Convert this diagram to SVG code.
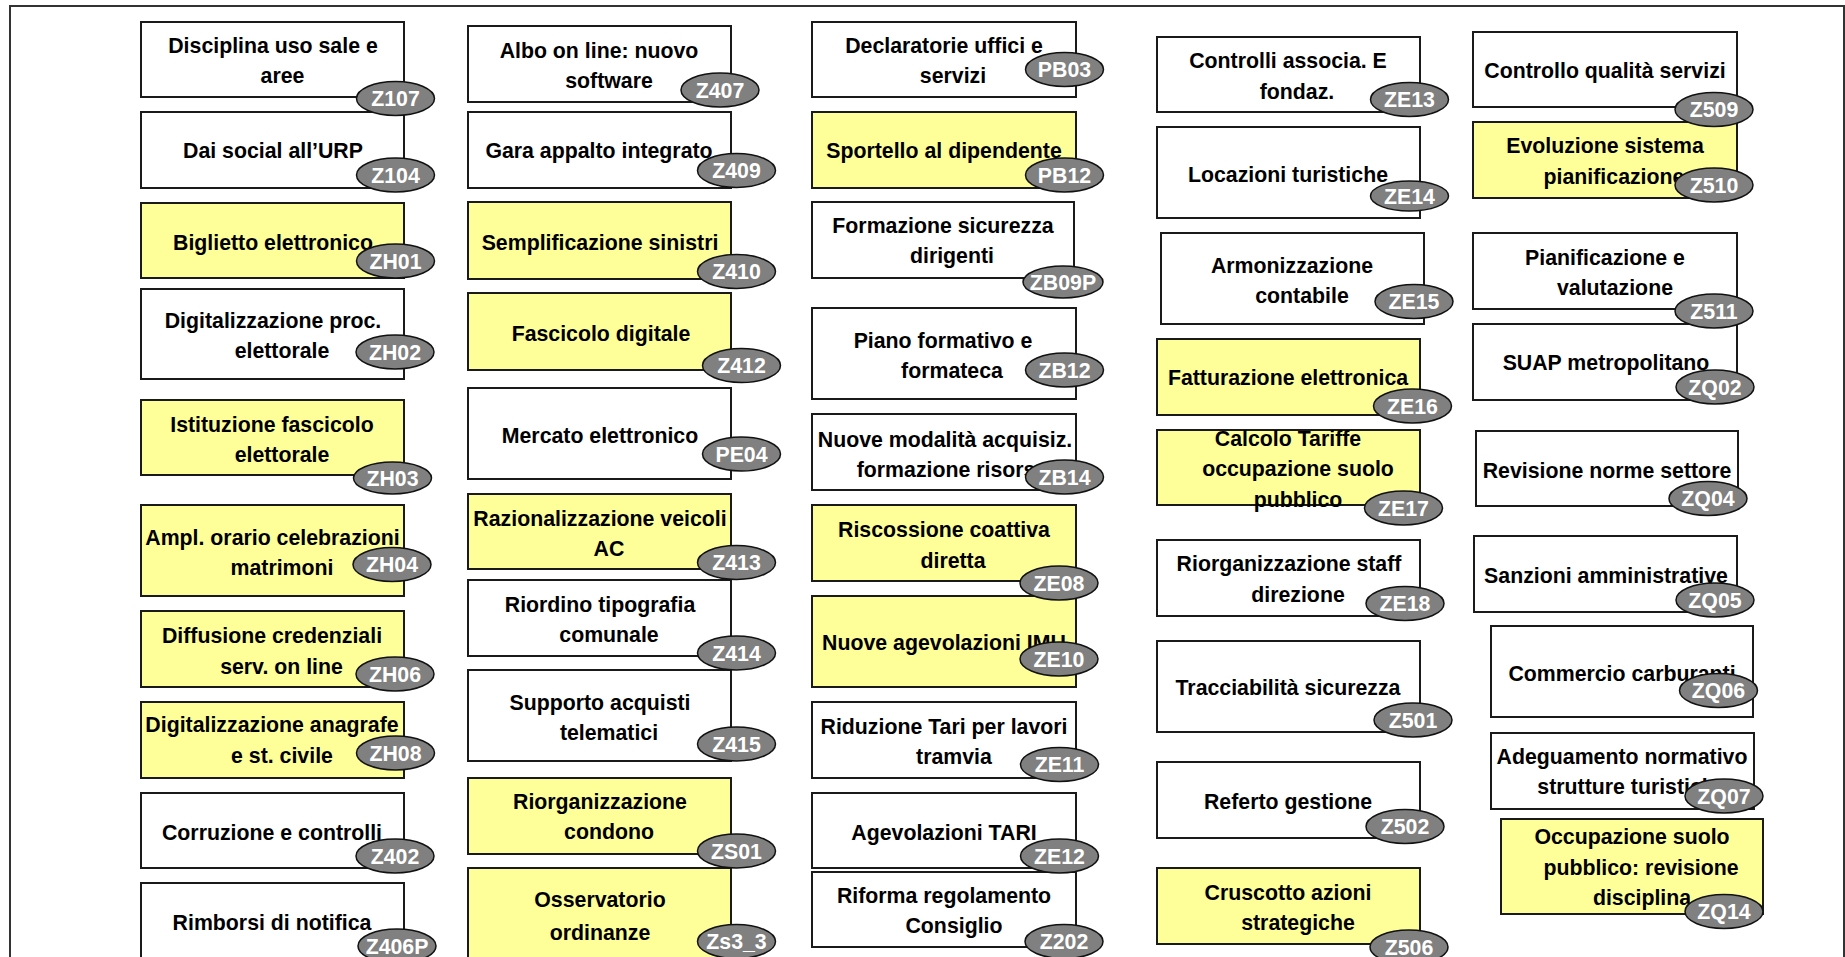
<svg xmlns="http://www.w3.org/2000/svg" width="1845" height="957" viewBox="0 0 1845 957">
<style>
.box{stroke:#1a1a1a;stroke-width:2}
.w{fill:#ffffff}
.y{fill:#ffff99}
.t{font-family:"Liberation Sans",Arial,sans-serif;font-weight:bold;font-size:21.3px;fill:#000;text-anchor:middle}
.tag{fill:#808080;stroke:#111;stroke-width:1.5}
.lb{font-family:"Liberation Sans",Arial,sans-serif;font-weight:bold;font-size:21.3px;fill:#fff;text-anchor:middle}
.frame{fill:none;stroke:#333;stroke-width:2}
</style>
<rect x="0" y="0" width="1845" height="957" fill="#fff"/>
<path class="frame" d="M10 960 V6 H1844 V960"/>

<g id="col1">
<g id="n-Z406P"><rect class="box w" x="141" y="883" width="263" height="100"/><text class="t" x="272" y="930">Rimborsi di notifica</text><ellipse class="tag" cx="397" cy="946" rx="39" ry="17"/><text class="lb" x="397" y="953.5">Z406P</text></g>
<g id="n-Z402"><rect class="box w" x="141" y="793" width="263" height="75"/><text class="t" x="272" y="840">Corruzione e controlli</text><ellipse class="tag" cx="395" cy="856" rx="39" ry="17"/><text class="lb" x="395" y="863.5">Z402</text></g>
<g id="n-ZH08"><rect class="box y" x="141" y="702" width="263" height="76"/><text class="t" x="272" y="732">Digitalizzazione anagrafe</text><text class="t" x="282" y="763">e st. civile</text><ellipse class="tag" cx="395.5" cy="753" rx="39" ry="17"/><text class="lb" x="395.5" y="760.5">ZH08</text></g>
<g id="n-ZH06"><rect class="box y" x="141" y="611" width="263" height="76"/><text class="t" x="272" y="643">Diffusione credenziali</text><text class="t" x="281.5" y="674">serv. on line</text><ellipse class="tag" cx="395" cy="674" rx="39" ry="17"/><text class="lb" x="395" y="681.5">ZH06</text></g>
<g id="n-ZH04"><rect class="box y" x="141" y="505" width="263" height="91"/><text class="t" x="272.5" y="545">Ampl. orario celebrazioni</text><text class="t" x="282" y="575">matrimoni</text><ellipse class="tag" cx="392" cy="564.5" rx="39" ry="17"/><text class="lb" x="392" y="572">ZH04</text></g>
<g id="n-ZH03"><rect class="box y" x="141" y="400" width="263" height="75"/><text class="t" x="272" y="432">Istituzione fascicolo</text><text class="t" x="282" y="462">elettorale</text><ellipse class="tag" cx="392.5" cy="478" rx="39" ry="16"/><text class="lb" x="392.5" y="485.5">ZH03</text></g>
<g id="n-ZH02"><rect class="box w" x="141" y="289" width="263" height="90"/><text class="t" x="273" y="328">Digitalizzazione proc.</text><text class="t" x="282" y="358">elettorale</text><ellipse class="tag" cx="395" cy="352" rx="39" ry="17"/><text class="lb" x="395" y="359.5">ZH02</text></g>
<g id="n-ZH01"><rect class="box y" x="141" y="203" width="263" height="75"/><text class="t" x="273" y="250">Biglietto elettronico</text><ellipse class="tag" cx="395.5" cy="261" rx="39" ry="17"/><text class="lb" x="395.5" y="268.5">ZH01</text></g>
<g id="n-Z104"><rect class="box w" x="141" y="112" width="263" height="76"/><text class="t" x="273" y="158">Dai social all’URP</text><ellipse class="tag" cx="395.5" cy="175" rx="39" ry="17"/><text class="lb" x="395.5" y="182.5">Z104</text></g>
<g id="n-Z107"><rect class="box w" x="141" y="22" width="263" height="75"/><text class="t" x="273" y="53">Disciplina uso sale e</text><text class="t" x="282.5" y="83">aree</text><ellipse class="tag" cx="395.5" cy="98.5" rx="39" ry="17"/><text class="lb" x="395.5" y="106">Z107</text></g>
</g>

<g id="col2">
<g id="n-Zs3_3"><rect class="box y" x="468" y="868" width="263" height="100"/><text class="t" x="600" y="907">Osservatorio</text><text class="t" x="600" y="940">ordinanze</text><ellipse class="tag" cx="736.5" cy="941.5" rx="39" ry="17"/><text class="lb" x="736.5" y="949">Zs3_3</text></g>
<g id="n-ZS01"><rect class="box y" x="468" y="778" width="263" height="76"/><text class="t" x="600" y="809">Riorganizzazione</text><text class="t" x="609" y="839">condono</text><ellipse class="tag" cx="736.5" cy="851" rx="39" ry="17"/><text class="lb" x="736.5" y="858.5">ZS01</text></g>
<g id="n-Z415"><rect class="box w" x="468" y="670" width="263" height="91"/><text class="t" x="600" y="710">Supporto acquisti</text><text class="t" x="609" y="740">telematici</text><ellipse class="tag" cx="736.5" cy="744" rx="39" ry="17"/><text class="lb" x="736.5" y="751.5">Z415</text></g>
<g id="n-Z414"><rect class="box w" x="468" y="580" width="263" height="76"/><text class="t" x="600" y="612">Riordino tipografia</text><text class="t" x="609" y="642">comunale</text><ellipse class="tag" cx="736.5" cy="653" rx="39" ry="17"/><text class="lb" x="736.5" y="660.5">Z414</text></g>
<g id="n-Z413"><rect class="box y" x="468" y="494" width="263" height="75"/><text class="t" x="600" y="526">Razionalizzazione veicoli</text><text class="t" x="609" y="556">AC</text><ellipse class="tag" cx="736.5" cy="562.5" rx="39" ry="17"/><text class="lb" x="736.5" y="570">Z413</text></g>
<g id="n-PE04"><rect class="box w" x="468" y="388" width="263" height="91"/><text class="t" x="600" y="443">Mercato elettronico</text><ellipse class="tag" cx="741.5" cy="454" rx="39" ry="17"/><text class="lb" x="741.5" y="461.5">PE04</text></g>
<g id="n-Z412"><rect class="box y" x="468" y="293" width="263" height="77"/><text class="t" x="601" y="341">Fascicolo digitale</text><ellipse class="tag" cx="741.5" cy="365.5" rx="39" ry="17"/><text class="lb" x="741.5" y="373">Z412</text></g>
<g id="n-Z410"><rect class="box y" x="468" y="202" width="263" height="77"/><text class="t" x="600" y="250">Semplificazione sinistri</text><ellipse class="tag" cx="736.5" cy="271.5" rx="39" ry="17"/><text class="lb" x="736.5" y="279">Z410</text></g>
<g id="n-Z409"><rect class="box w" x="468" y="112" width="263" height="76"/><text class="t" x="599" y="158">Gara appalto integrato</text><ellipse class="tag" cx="736.5" cy="170.5" rx="39" ry="17"/><text class="lb" x="736.5" y="178">Z409</text></g>
<g id="n-Z407"><rect class="box w" x="468" y="26" width="263" height="76"/><text class="t" x="599" y="58">Albo on line: nuovo</text><text class="t" x="609" y="88">software</text><ellipse class="tag" cx="720" cy="90" rx="39" ry="17"/><text class="lb" x="720" y="97.5">Z407</text></g>
</g>

<g id="col3">
<g id="n-Z202"><rect class="box w" x="812" y="872" width="264" height="75"/><text class="t" x="944" y="903">Riforma regolamento</text><text class="t" x="954" y="933">Consiglio</text><ellipse class="tag" cx="1064" cy="941.5" rx="39" ry="17"/><text class="lb" x="1064" y="949">Z202</text></g>
<g id="n-ZE12"><rect class="box w" x="812" y="793" width="264" height="75"/><text class="t" x="944" y="840">Agevolazioni TARI</text><ellipse class="tag" cx="1059.5" cy="856" rx="39" ry="17"/><text class="lb" x="1059.5" y="863.5">ZE12</text></g>
<g id="n-ZE11"><rect class="box w" x="812" y="702" width="264" height="76"/><text class="t" x="944" y="734">Riduzione Tari per lavori</text><text class="t" x="954" y="764">tramvia</text><ellipse class="tag" cx="1059.5" cy="764.5" rx="39" ry="17"/><text class="lb" x="1059.5" y="772">ZE11</text></g>
<g id="n-ZE10"><rect class="box y" x="812" y="596" width="264" height="91"/><text class="t" x="944" y="650">Nuove agevolazioni IMU</text><ellipse class="tag" cx="1059" cy="659" rx="39" ry="17"/><text class="lb" x="1059" y="666.5">ZE10</text></g>
<g id="n-ZE08"><rect class="box y" x="812" y="505" width="264" height="76"/><text class="t" x="944" y="537">Riscossione coattiva</text><text class="t" x="953" y="568">diretta</text><ellipse class="tag" cx="1059" cy="583" rx="39" ry="17"/><text class="lb" x="1059" y="590.5">ZE08</text></g>
<g id="n-ZB14"><rect class="box w" x="812" y="414" width="264" height="76"/><text class="t" x="945" y="447">Nuove modalità acquisiz.</text><text class="t" x="952" y="477">formazione risorse</text><ellipse class="tag" cx="1064.5" cy="477" rx="39" ry="17"/><text class="lb" x="1064.5" y="484.5">ZB14</text></g>
<g id="n-ZB12"><rect class="box w" x="812" y="308" width="264" height="91"/><text class="t" x="943" y="348">Piano formativo e</text><text class="t" x="952" y="378">formateca</text><ellipse class="tag" cx="1064.5" cy="370" rx="39" ry="17"/><text class="lb" x="1064.5" y="377.5">ZB12</text></g>
<g id="n-ZB09P"><rect class="box w" x="812" y="202" width="262" height="76"/><text class="t" x="943" y="233">Formazione sicurezza</text><text class="t" x="952" y="263">dirigenti</text><ellipse class="tag" cx="1063" cy="282" rx="40" ry="16"/><text class="lb" x="1063" y="289.5">ZB09P</text></g>
<g id="n-PB12"><rect class="box y" x="812" y="112" width="264" height="76"/><text class="t" x="944" y="158">Sportello al dipendente</text><ellipse class="tag" cx="1064.5" cy="175" rx="39" ry="17"/><text class="lb" x="1064.5" y="182.5">PB12</text></g>
<g id="n-PB03"><rect class="box w" x="812" y="22" width="264" height="75"/><text class="t" x="944" y="53">Declaratorie uffici e</text><text class="t" x="953" y="83">servizi</text><ellipse class="tag" cx="1064.5" cy="69.5" rx="39" ry="17"/><text class="lb" x="1064.5" y="77">PB03</text></g>
</g>

<g id="col4">
<g id="n-Z506"><rect class="box y" x="1157" y="868" width="263" height="76"/><text class="t" x="1288" y="900">Cruscotto azioni</text><text class="t" x="1298" y="930">strategiche</text><ellipse class="tag" cx="1409" cy="947" rx="39" ry="17"/><text class="lb" x="1409" y="954.5">Z506</text></g>
<g id="n-Z502"><rect class="box w" x="1157" y="762" width="263" height="76"/><text class="t" x="1288" y="809">Referto gestione</text><ellipse class="tag" cx="1405" cy="826.5" rx="39" ry="17"/><text class="lb" x="1405" y="834">Z502</text></g>
<g id="n-Z501"><rect class="box w" x="1157" y="641" width="263" height="91"/><text class="t" x="1288" y="695">Tracciabilità sicurezza</text><ellipse class="tag" cx="1413" cy="720" rx="39" ry="17"/><text class="lb" x="1413" y="727.5">Z501</text></g>
<g id="n-ZE18"><rect class="box w" x="1157" y="540" width="263" height="76"/><text class="t" x="1289" y="571">Riorganizzazione staff</text><text class="t" x="1298" y="602">direzione</text><ellipse class="tag" cx="1405" cy="603.5" rx="39" ry="17"/><text class="lb" x="1405" y="611">ZE18</text></g>
<g id="n-ZE17"><rect class="box y" x="1157" y="430" width="263" height="75"/><text class="t" x="1288" y="446">Calcolo Tariffe</text><text class="t" x="1298" y="476">occupazione suolo</text><text class="t" x="1298" y="507">pubblico</text><ellipse class="tag" cx="1403.5" cy="508" rx="39" ry="17"/><text class="lb" x="1403.5" y="515.5">ZE17</text></g>
<g id="n-ZE16"><rect class="box y" x="1157" y="339" width="263" height="76"/><text class="t" x="1288" y="385">Fatturazione elettronica</text><ellipse class="tag" cx="1412.5" cy="406" rx="39" ry="17"/><text class="lb" x="1412.5" y="413.5">ZE16</text></g>
<g id="n-ZE15"><rect class="box w" x="1161" y="233" width="263" height="91"/><text class="t" x="1292" y="273">Armonizzazione</text><text class="t" x="1302" y="303">contabile</text><ellipse class="tag" cx="1414" cy="301.5" rx="39" ry="17"/><text class="lb" x="1414" y="309">ZE15</text></g>
<g id="n-ZE14"><rect class="box w" x="1157" y="127" width="263" height="91"/><text class="t" x="1288" y="182">Locazioni turistiche</text><ellipse class="tag" cx="1409.5" cy="196" rx="39" ry="15"/><text class="lb" x="1409.5" y="203.5">ZE14</text></g>
<g id="n-ZE13"><rect class="box w" x="1157" y="37" width="263" height="75"/><text class="t" x="1288" y="68">Controlli associa. E</text><text class="t" x="1297" y="99">fondaz.</text><ellipse class="tag" cx="1409.5" cy="99.5" rx="39" ry="17"/><text class="lb" x="1409.5" y="107">ZE13</text></g>
</g>

<g id="col5">
<g id="n-ZQ14"><rect class="box y" x="1501" y="819" width="262" height="95"/><text class="t" x="1632" y="844">Occupazione suolo</text><text class="t" x="1641" y="875">pubblico: revisione</text><text class="t" x="1642" y="905">disciplina</text><ellipse class="tag" cx="1724" cy="911.5" rx="39" ry="17"/><text class="lb" x="1724" y="919">ZQ14</text></g>
<g id="n-ZQ07"><rect class="box w" x="1491" y="733" width="263" height="76"/><text class="t" x="1622" y="764">Adeguamento normativo</text><text class="t" x="1632" y="794">strutture turistiche</text><ellipse class="tag" cx="1724" cy="796" rx="39" ry="17"/><text class="lb" x="1724" y="803.5">ZQ07</text></g>
<g id="n-ZQ06"><rect class="box w" x="1491" y="626" width="262" height="91"/><text class="t" x="1622" y="681">Commercio carburanti</text><ellipse class="tag" cx="1718.5" cy="690.5" rx="39" ry="17"/><text class="lb" x="1718.5" y="698">ZQ06</text></g>
<g id="n-ZQ05"><rect class="box w" x="1474" y="536" width="263" height="76"/><text class="t" x="1606" y="583">Sanzioni amministrative</text><ellipse class="tag" cx="1715" cy="600" rx="39" ry="17"/><text class="lb" x="1715" y="607.5">ZQ05</text></g>
<g id="n-ZQ04"><rect class="box w" x="1476" y="431" width="262" height="75"/><text class="t" x="1607" y="478">Revisione norme settore</text><ellipse class="tag" cx="1708" cy="498.5" rx="39" ry="17"/><text class="lb" x="1708" y="506">ZQ04</text></g>
<g id="n-ZQ02"><rect class="box w" x="1473" y="324" width="264" height="76"/><text class="t" x="1606" y="370">SUAP metropolitano</text><ellipse class="tag" cx="1715" cy="387" rx="39" ry="17"/><text class="lb" x="1715" y="394.5">ZQ02</text></g>
<g id="n-Z511"><rect class="box w" x="1473" y="233" width="264" height="76"/><text class="t" x="1605" y="265">Pianificazione e</text><text class="t" x="1615" y="295">valutazione</text><ellipse class="tag" cx="1714" cy="311" rx="39" ry="17"/><text class="lb" x="1714" y="318.5">Z511</text></g>
<g id="n-Z510"><rect class="box y" x="1473" y="122" width="264" height="76"/><text class="t" x="1605" y="153">Evoluzione sistema</text><text class="t" x="1614" y="184">pianificazione</text><ellipse class="tag" cx="1714" cy="185" rx="39" ry="17"/><text class="lb" x="1714" y="192.5">Z510</text></g>
<g id="n-Z509"><rect class="box w" x="1473" y="32" width="264" height="75"/><text class="t" x="1605" y="78">Controllo qualità servizi</text><ellipse class="tag" cx="1714" cy="109.5" rx="39" ry="17"/><text class="lb" x="1714" y="117">Z509</text></g>
</g>
</svg>
